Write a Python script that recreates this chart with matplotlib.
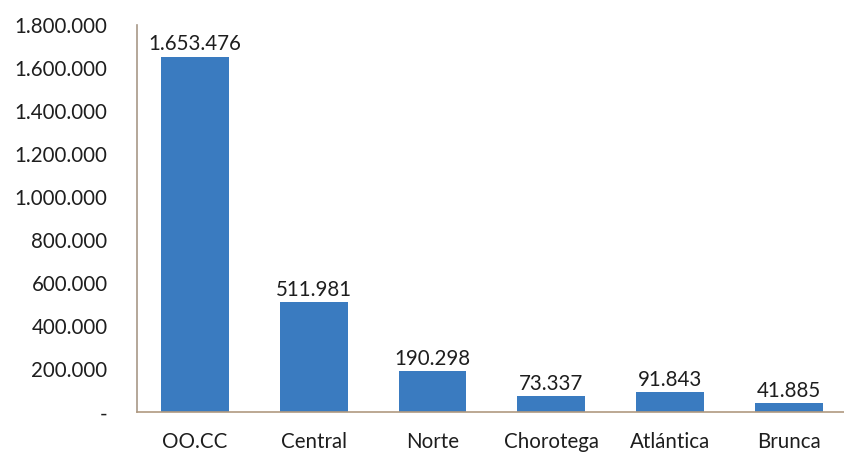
import matplotlib.pyplot as plt
import numpy as np

regions = ['OO.CC', 'Central', 'Norte', 'Chorotega', 'Atlántica', 'Brunca']
values = [1653476, 511981, 190298, 73337, 91843, 41885]
y_ticks = [0, 200000, 400000, 600000, 800000, 1000000, 1200000, 1400000, 1600000, 1800000]


def fmt_dots(v):
    if v == 0:
        return '-'
    return f'{v:,}'.replace(',', '.')


plt.rcParams['font.family'] = ['Lato', 'DejaVu Sans']

fig = plt.figure(figsize=(8.44, 4.55), dpi=100)
ax = fig.add_axes([0.162, 0.094, 0.85, 0.851])

x = np.arange(len(regions))
bars = ax.bar(x, values, width=0.57, color='#3a7bc0', edgecolor='none')

for xi, v in zip(x, values):
    ax.text(xi, v + 12000, fmt_dots(v), ha='center', va='bottom', fontsize=14.8, color='#1e1e1e')

ax.set_xlim(-0.49, 5.55)
ax.set_ylim(0, 1800000)
ax.set_yticks(y_ticks)
ax.set_yticklabels([fmt_dots(t) for t in y_ticks])
ax.set_xticks(x)
ax.set_xticklabels(regions)
ax.tick_params(axis='both', length=0, labelsize=14.8, colors='#1e1e1e')
ax.tick_params(axis='y', pad=21)
ax.tick_params(axis='x', pad=14)

for side in ['top', 'right']:
    ax.spines[side].set_visible(False)
ax.spines['left'].set_color('#a89888')
ax.spines['bottom'].set_color('#b09a80')
ax.spines['left'].set_linewidth(1.2)
ax.spines['bottom'].set_linewidth(1.2)

fig.savefig('out.png', dpi=100)
